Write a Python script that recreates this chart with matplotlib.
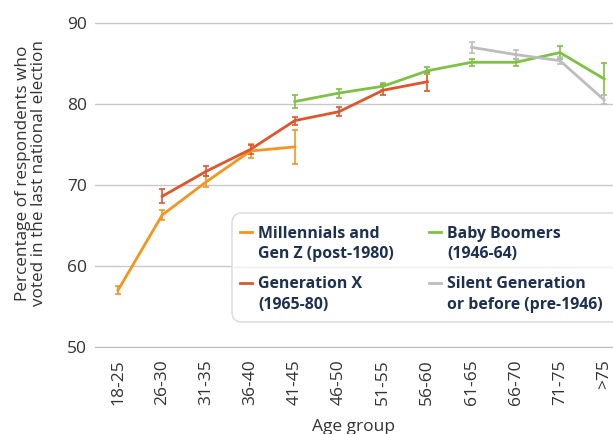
import matplotlib.pyplot as plt
from matplotlib.patches import FancyBboxPatch
from matplotlib.lines import Line2D

plt.rcParams["font.family"] = ["Open Sans", "DejaVu Sans"]

ages = ["18-25", "26-30", "31-35", "36-40", "41-45", "46-50",
        "51-55", "56-60", "61-65", "66-70", "71-75", ">75"]

# index of first age group for each generation, values, error half-widths
mill_start = 0
mill_vals = [57.0, 66.3, 70.4, 74.2, 74.7]
mill_err = [0.5, 0.6, 0.65, 0.9, 2.1]

genx_start = 1
genx_vals = [68.6, 71.7, 74.4, 77.95, 79.05, 81.7, 82.75]
genx_err = [0.85, 0.6, 0.6, 0.5, 0.55, 0.6, 1.2]

boom_start = 4
boom_vals = [80.3, 81.35, 82.2, 84.1, 85.15, 85.15, 86.35, 83.1]
boom_err = [0.75, 0.55, 0.45, 0.45, 0.4, 0.45, 0.75, 2.0]

silent_start = 8
silent_vals = [87.0, 86.1, 85.35, 80.5]
silent_err = [0.7, 0.6, 0.4, 0.55]

labels = ["Millennials and\nGen Z (post-1980)", "Generation X\n(1965-80)",
          "Baby Boomers\n(1946-64)", "Silent Generation\nor before (pre-1946)"]
colors = ["#F7941D", "#E0552B", "#7DC242", "#BDBDBD"]

series = [(mill_start, mill_vals, mill_err),
          (genx_start, genx_vals, genx_err),
          (boom_start, boom_vals, boom_err),
          (silent_start, silent_vals, silent_err)]

fig = plt.figure(figsize=(6.13, 4.34), dpi=100)
ax = fig.add_axes([95 / 613, 87 / 434, 518 / 613, 347 / 434])

for (start, vals, err), col in zip(series, colors):
    xs = list(range(start, start + len(vals)))
    ax.errorbar(xs, vals, yerr=err, color=col, lw=2.0, elinewidth=1.2,
                capsize=2.5, capthick=1.2, ecolor=col, zorder=3)

ax.set_xlim(-0.52, 11.2)
ax.set_ylim(50, 92.84)
ax.set_xticks(range(len(ages)))
ax.set_xticklabels(ages, rotation=90)
ax.set_yticks([50, 60, 70, 80, 90])
ax.tick_params(axis="both", length=0, labelsize=12.5, colors="#333333")
ax.tick_params(axis="x", pad=9)
ax.tick_params(axis="y", pad=6)
ax.grid(axis="y", color="#c8c8c8", lw=1)
ax.set_axisbelow(True)
for s in ["top", "right", "left"]:
    ax.spines[s].set_visible(False)
ax.spines["bottom"].set_color("#bdbdbd")

ax.set_xlabel("Age group", fontsize=12.5, color="#333333", labelpad=10)
ax.set_ylabel("Percentage of respondents who\nvoted in the last national election",
              fontsize=12.3, color="#333333", labelpad=14, linespacing=1.05)

# legend box drawn by hand (pixel positions / 100 -> inches)
tr = fig.dpi_scale_trans
H = 4.34
box = FancyBboxPatch((2.32, H - 3.22), 4.0, 1.09,
                     boxstyle="round,pad=0,rounding_size=0.1",
                     transform=tr, facecolor="white", edgecolor="#d9d9d9",
                     lw=1, zorder=5)
fig.add_artist(box)
fig.add_artist(Line2D([2.32, 6.13], [H - 2.67, H - 2.67], transform=tr,
                      color="#eeeeee", lw=1, zorder=6))

cols_x = [2.40, 4.29]
rows_y = [2.32, 2.83]
for i, (lab, col) in enumerate(zip(labels, colors)):
    x0 = cols_x[i // 2]
    y0 = rows_y[i % 2]
    fig.add_artist(Line2D([x0, x0 + 0.12], [H - y0, H - y0], transform=tr,
                          color=col, lw=2, zorder=6))
    fig.text(x0 + 0.18, H - y0 + 0.065, lab, transform=tr, fontsize=11.4,
             fontweight="bold", color="#1c3050", va="top", ha="left",
             linespacing=1.38, zorder=7)

fig.savefig("out.png", dpi=100)
